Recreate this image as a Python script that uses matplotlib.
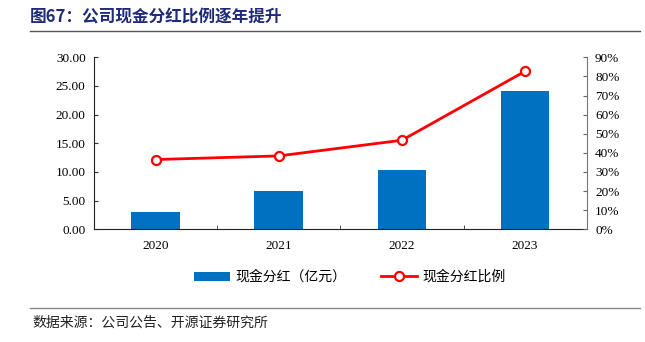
import matplotlib
matplotlib.use("Agg")
import matplotlib.pyplot as plt
from matplotlib.lines import Line2D
from matplotlib.patches import Patch
import numpy as np

years = ["2020", "2021", "2022", "2023"]
dividend = [3.0, 6.6, 10.35, 24.2]          # 现金分红（亿元）
ratio = [36.5, 38.4, 46.6, 82.7]            # 现金分红比例 (%)
left_ticks = [0, 5, 10, 15, 20, 25, 30]
right_ticks = [0, 10, 20, 30, 40, 50, 60, 70, 80, 90]

cjk = ['Noto Sans CJK SC', 'DejaVu Sans']
serif = ['Liberation Serif', 'DejaVu Serif']

fig = plt.figure(figsize=(6.45, 3.42), dpi=100)
ax = fig.add_axes([94/645, 1-229.3/342, (586.7-94)/645, (229.3-57.3)/342])
x = np.arange(len(years))
ax.bar(x, dividend, width=0.395, color='#0070C0', zorder=2)
ax.set_xlim(-0.5, len(years)-0.5)
ax.set_ylim(0, 30)
ax.set_yticks(left_ticks)
ax.set_yticklabels([f"{v:.2f}" for v in left_ticks], family=serif, fontsize=9.5)
ax.set_xticks(x)
ax.set_xticklabels(years, family=serif, fontsize=9.5)
ax.set_xticks(np.arange(len(years)+1)-0.5, minor=True)
ax.tick_params(axis='x', which='major', length=0, pad=8)
ax.tick_params(axis='x', which='minor', direction='in', length=3, color='#333333')
ax.tick_params(axis='y', direction='in', length=3, color='#333333', pad=6)
ax.spines['top'].set_visible(False)
ax.spines['right'].set_visible(False)
ax.spines['left'].set_color('#222222')
ax.spines['bottom'].set_color('#222222')

ax2 = ax.twinx()
ax2.plot(x, ratio, color='#FF0000', lw=2, marker='o', ms=6.5,
         markerfacecolor='white', markeredgecolor='#FF0000', markeredgewidth=1.6, zorder=3)
ax2.set_ylim(0, 90)
ax2.set_yticks(right_ticks)
ax2.set_yticklabels([f"{v}%" for v in right_ticks], family=serif, fontsize=9.5)
ax2.tick_params(axis='y', direction='in', length=3, color='#666666', pad=6)
ax2.spines['top'].set_visible(False)
ax2.spines['left'].set_visible(False)
ax2.spines['bottom'].set_visible(False)
ax2.spines['right'].set_color('#777777')

handles = [Patch(facecolor='#0070C0', edgecolor='none'),
           Line2D([0], [0], color='#FF0000', lw=2, marker='o', ms=6.5,
                  markerfacecolor='white', markeredgecolor='#FF0000', markeredgewidth=1.6)]
labels = ["现金分红（亿元）", "现金分红比例"]
fig.legend(handles, labels, loc='center', bbox_to_anchor=(350/645, 1-277/342),
           ncol=2, frameon=False, prop={'family': cjk, 'size': 10},
           handlelength=2.6, handleheight=0.6, columnspacing=2.5, handletextpad=0.4)

fig.text(30/645, 1-18/342, "图67：公司现金分红比例逐年提升", family=cjk, fontsize=12,
         fontweight='bold', color='#1F2A78', va='center', ha='left')
fig.add_artist(Line2D([30/645, 640/645], [1-31/342, 1-31/342], color='#555555', lw=1))
fig.add_artist(Line2D([30/645, 640/645], [1-308/342, 1-308/342], color='#888888', lw=1))
fig.text(32/645, 1-323/342, "数据来源：公司公告、开源证券研究所", family=cjk, fontsize=10,
         color='#222222', va='center', ha='left')

fig.savefig("out.png", dpi=100)
